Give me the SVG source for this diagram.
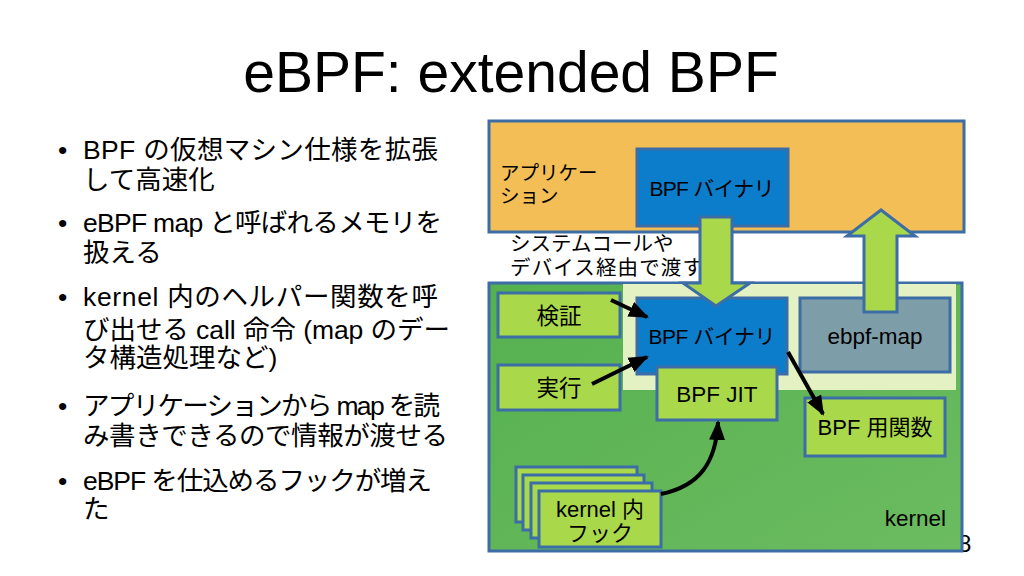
<svg xmlns="http://www.w3.org/2000/svg" width="1024" height="576" viewBox="0 0 1024 576">
<defs>
<style>
.t{font-family:"Liberation Sans","Noto Sans CJK JP",sans-serif;fill:#000}
.lb{font-size:22.5px;text-anchor:middle}
.box{stroke:#3d6da6;stroke-width:3}
.lg{fill:#a9d94a}
.bl{fill:#0c7dcb}
.blk{stroke:#000;stroke-width:4;fill:none}
</style>
<linearGradient id="kg" x1="0" y1="0" x2="1" y2="1">
<stop offset="0" stop-color="#55b14f"/>
<stop offset="1" stop-color="#6cbb60"/>
</linearGradient>
<marker id="ah" markerUnits="userSpaceOnUse" markerWidth="20" markerHeight="20" viewBox="0 0 20 20" refX="18" refY="10" orient="auto">
<path d="M0,2 L20,10 L0,18 Z" fill="#000"/>
</marker>
</defs>
<rect width="1024" height="576" fill="#fff"/>
<text class="t" x="511" y="92" font-size="57" text-anchor="middle">eBPF: extended BPF</text>
<g id="bullets" class="t" font-size="26.5">
<text x="58" y="159">•</text>
<text x="83" y="159" textLength="355" lengthAdjust="spacing">BPF の仮想マシン仕様を拡張</text>
<text x="83" y="189">して高速化</text>
<text x="58" y="232">•</text>
<text x="83" y="232" textLength="359" lengthAdjust="spacing">eBPF map と呼ばれるメモリを</text>
<text x="83" y="262">扱える</text>
<text x="58" y="306">•</text>
<text x="83" y="306" textLength="355" lengthAdjust="spacing">kernel 内のヘルパー関数を呼</text>
<text x="83" y="339" textLength="367" lengthAdjust="spacing">び出せる call 命令 (map のデー</text>
<text x="83" y="367">タ構造処理など)</text>
<text x="58" y="415">•</text>
<text x="83" y="415" textLength="357" lengthAdjust="spacing">アプリケーションから map を読</text>
<text x="83" y="445" textLength="365" lengthAdjust="spacing">み書きできるので情報が渡せる</text>
<text x="58" y="490">•</text>
<text x="83" y="490" textLength="349" lengthAdjust="spacing">eBPF を仕込めるフックが増え</text>
<text x="83" y="518">た</text>
</g>
<text class="t" x="958" y="552" font-size="24" fill="#333">8</text>
<g id="application">
<rect class="box" x="489" y="121" width="475" height="111" fill="#f3be56"/>
<text class="t" x="500" y="180" font-size="19.5">アプリケー</text>
<text class="t" x="500" y="203" font-size="19.5">ション</text>
</g>
<g id="bpf-binary-app">
<rect class="box bl" x="637" y="149" width="151" height="77"/>
<text class="t lb" x="712" y="196" font-size="21" style="font-size:21px" textLength="125" lengthAdjust="spacing">BPF バイナリ</text>
</g>
<g id="syscall-label">
<text class="t" x="510" y="251" font-size="20.5">システムコールや</text>
<text class="t" x="510" y="275" font-size="20.5" textLength="193" lengthAdjust="spacing">デバイス経由で渡す</text>
</g>
<g id="kernel">
<rect class="box" x="489" y="283" width="473" height="268" fill="url(#kg)"/>
<rect x="623" y="284" width="333" height="106" fill="#e3f1c3"/>
<text class="t" x="946" y="526" font-size="22.5" text-anchor="end">kernel</text>
</g>
<g id="verify">
<rect class="box lg" x="498" y="293" width="122" height="44"/>
<text class="t lb" x="559" y="324">検証</text>
</g>
<g id="exec">
<rect class="box lg" x="498" y="365" width="122" height="45"/>
<text class="t lb" x="559" y="396">実行</text>
</g>
<g id="bpf-binary-kernel">
<rect class="box bl" x="637" y="298" width="150" height="76"/>
<text class="t lb" x="712" y="344" style="font-size:21px" textLength="127" lengthAdjust="spacing">BPF バイナリ</text>
</g>
<g id="ebpf-map">
<rect class="box" x="800" y="298" width="150" height="74" fill="#7d9ea9"/>
<text class="t lb" x="875" y="344">ebpf-map</text>
</g>
<g id="bpf-jit">
<rect class="box lg" x="657" y="367" width="120" height="53"/>
<text class="t lb" x="717" y="402">BPF JIT</text>
</g>
<g id="bpf-func">
<rect class="box lg" x="805" y="398" width="140" height="58"/>
<text class="t lb" x="875" y="435" style="font-size:22px">BPF 用関数</text>
</g>
<g id="kernel-hooks">
<rect class="box lg" x="516" y="467" width="121" height="55"/>
<rect class="box lg" x="523" y="475" width="121" height="55"/>
<rect class="box lg" x="531" y="483" width="121" height="55"/>
<rect class="box lg" x="539" y="491" width="122" height="56"/>
<text class="t" x="600" y="517" font-size="22" text-anchor="middle">kernel 内</text>
<text class="t" x="600" y="541" font-size="22" text-anchor="middle">フック</text>
</g>
<g id="connectors">
<polygon class="box lg" points="700,217 732,217 732,283 750,283 716,306 683,283 700,283"/>
<polygon class="box lg" points="864,312 897,312 897,236 915,236 881,210 847,236 864,236"/>
<line class="blk" x1="611" y1="300" x2="647" y2="317" marker-end="url(#ah)"/>
<line class="blk" x1="592" y1="384" x2="647" y2="357" marker-end="url(#ah)"/>
<line class="blk" x1="788" y1="352" x2="823" y2="414" marker-end="url(#ah)"/>
<path class="blk" d="M661,494 C700,486 716,462 718,422" marker-end="url(#ah)"/>
</g>
</svg>
